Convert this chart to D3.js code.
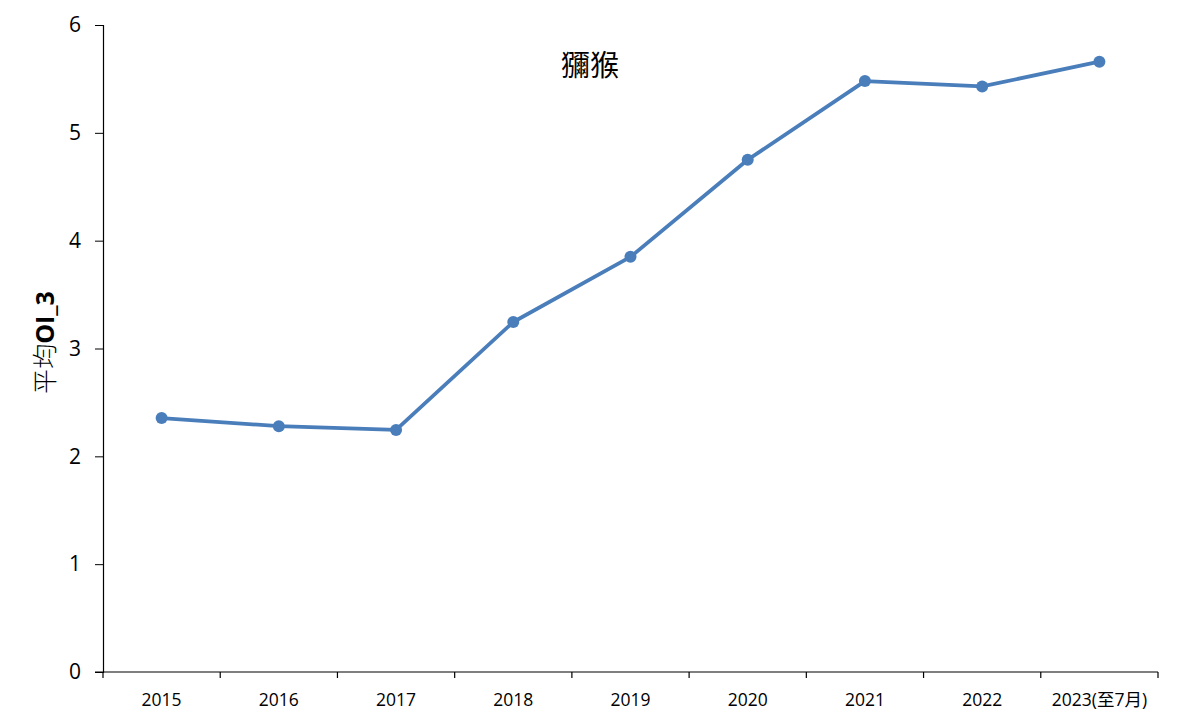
<!DOCTYPE html>
<html>
<head>
<meta charset="utf-8">
<script src="https://cdn.jsdelivr.net/npm/d3@7"></script>
<style>
  body { margin: 0; background: #fff; }
  text { font-family: Calibri, Carlito, "Noto Sans", sans-serif; fill: #000; }
</style>
</head>
<body>
<div class="canvas"></div>
<script>
const years = ['2015', '2016', '2017', '2018', '2019', '2020', '2021', '2022', '2023(至7月)']
const values = [2.355, 2.28, 2.245, 3.246, 3.85, 4.75, 5.48, 5.43, 5.66]
const yTicks = [0, 1, 2, 3, 4, 5, 6]
const title = '獼猴'

const dims = { width: 1182, height: 726 }
const plot = { left: 103, right: 1158, top: 25, bottom: 672 }

const svg = d3.select('.canvas')
    .append('svg')
    .attr('width', dims.width)
    .attr('height', dims.height)

const x = d3.scaleBand()
    .domain(years)
    .range([plot.left, plot.right])

const y = d3.scaleLinear()
    .domain([0, 6])
    .range([plot.bottom, plot.top])

// y axis
const yAxis = svg.append('g')
    .attr('transform', `translate(${plot.left}, 0)`)
    .call(d3.axisLeft(y).tickValues(yTicks).tickSize(8).tickPadding(14).tickFormat(d3.format('d')))
yAxis.selectAll('text').style('font-size', '21px').style('font-family', '"Open Sans", "Noto Sans", sans-serif')
yAxis.select('.domain').attr('stroke', '#000').attr('stroke-width', 1.2)

// x axis, ticks on band edges
const xAxis = svg.append('g')
    .attr('transform', `translate(0, ${plot.bottom})`)
xAxis.append('line')
    .attr('x1', plot.left - 8).attr('x2', plot.right)
    .attr('stroke', '#000').attr('stroke-width', 1.2)
const edges = years.map(d => x(d)).concat([plot.right])
xAxis.selectAll('.tk')
    .data(edges)
    .enter().append('line')
    .attr('class', 'tk')
    .attr('x1', d => d).attr('x2', d => d)
    .attr('y1', 0).attr('y2', 6)
    .attr('stroke', '#000').attr('stroke-width', 1.2)
xAxis.selectAll('.lbl')
    .data(years)
    .enter().append('text')
    .attr('class', 'lbl')
    .attr('x', d => x(d) + x.bandwidth() / 2)
    .attr('y', 34)
    .attr('text-anchor', 'middle')
    .style('font-size', '17.5px')
    .style('font-family', '"Open Sans", "Noto Sans CJK TC", sans-serif')
    .text(d => d)

// line + points
const line = d3.line()
    .x((d, i) => x(years[i]) + x.bandwidth() / 2)
    .y(d => y(d))

svg.append('path')
    .datum(values)
    .attr('d', line)
    .attr('fill', 'none')
    .attr('stroke', '#4a7ebb')
    .attr('stroke-width', 3.8)
    .attr('stroke-linejoin', 'round')

svg.selectAll('circle')
    .data(values)
    .enter().append('circle')
    .attr('cx', (d, i) => x(years[i]) + x.bandwidth() / 2)
    .attr('cy', d => y(d))
    .attr('r', 6)
    .attr('fill', '#4a7ebb')

// title
svg.append('text')
    .attr('x', 590)
    .attr('y', 76)
    .attr('text-anchor', 'middle')
    .style('font-size', '29px')
    .style('font-family', '"Noto Sans CJK TC", sans-serif')
    .text(title)

// y label
const yl = svg.append('text')
    .attr('transform', `translate(54, ${(plot.top + plot.bottom) / 2 - 6}) rotate(-90)`)
    .attr('text-anchor', 'middle')
    .style('font-size', '25px')
yl.append('tspan').style('font-family', '"Noto Sans CJK TC", sans-serif').style('font-weight', 300).text('平均')
yl.append('tspan').style('font-family', '"Open Sans", "Noto Sans", sans-serif').style('font-weight', 'bold').text('OI_3')
</script>
</body>
</html>
